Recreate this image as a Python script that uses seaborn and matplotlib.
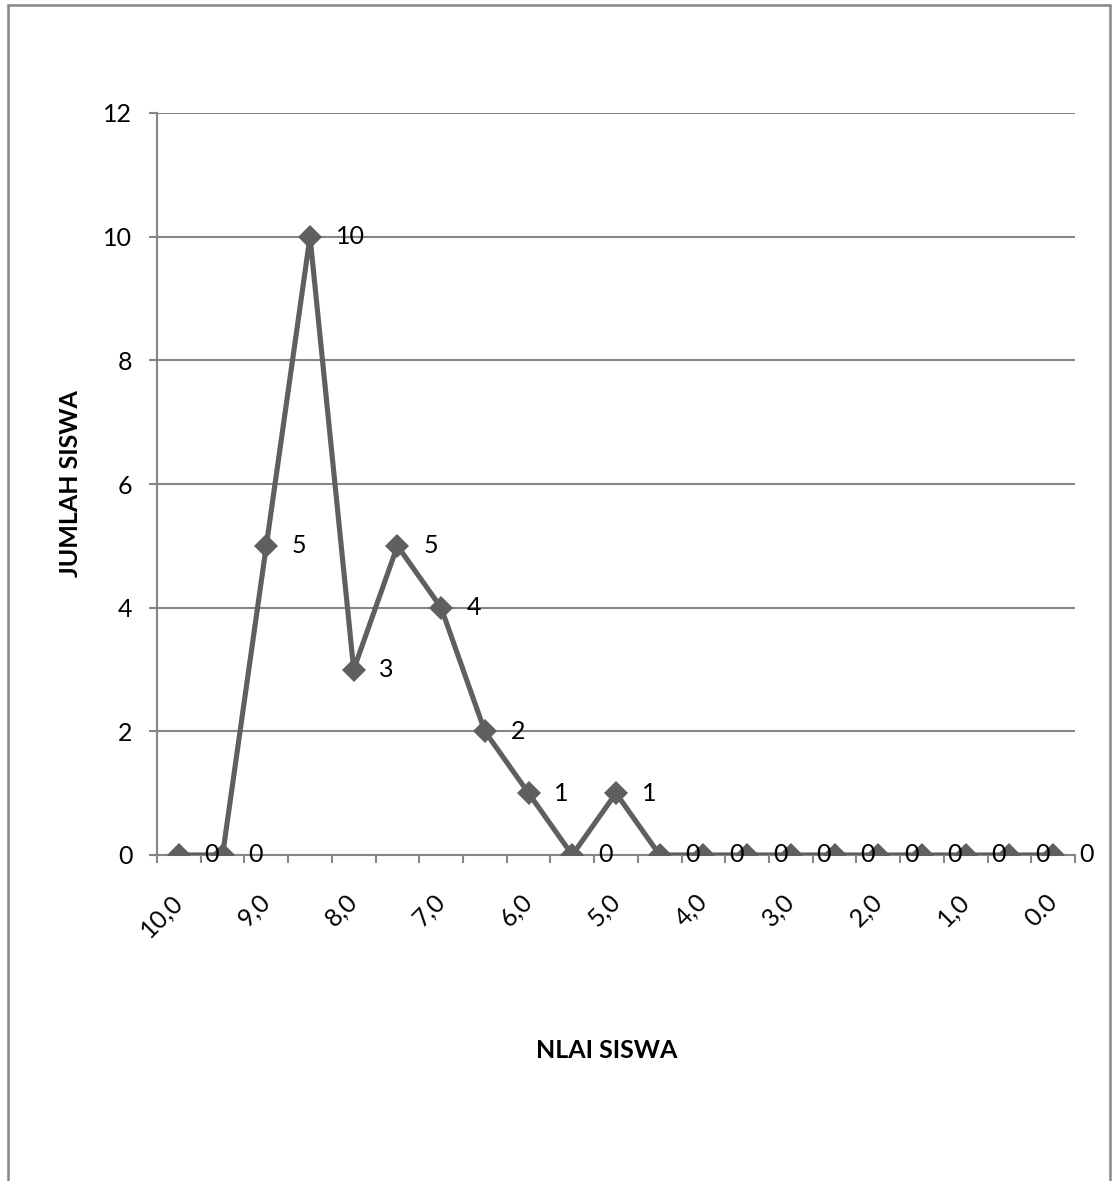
import matplotlib
matplotlib.use("Agg")
import matplotlib.pyplot as plt
import seaborn as sns
import pandas as pd
from matplotlib.lines import Line2D

# ---- data ----
categories = ["10,0", "9,5", "9,0", "8,5", "8,0", "7,5", "7,0", "6,5", "6,0", "5,5",
              "5,0", "4,5", "4,0", "3,5", "3,0", "2,5", "2,0", "1,5", "1,0", "0,5", "0.0"]
tick_labels = ["10,0", "", "9,0", "", "8,0", "", "7,0", "", "6,0", "", "5,0", "",
               "4,0", "", "3,0", "", "2,0", "", "1,0", "", "0.0"]
counts = [0, 0, 5, 10, 3, 5, 4, 2, 1, 0, 1, 0, 0, 0, 0, 0, 0, 0, 0, 0, 0]
y_ticks = [0, 2, 4, 6, 8, 10, 12]
x_title = "NLAI SISWA"
y_title = "JUMLAH SISWA"

sns.set_theme(style="white")
plt.rcParams['font.family'] = ['Lato', 'DejaVu Sans']

AX_COLOR = "#868686"
LINE_COLOR = "#5f5f5f"
FS = 18

fig = plt.figure(figsize=(11.14, 11.81), dpi=100)
fig.patch.set_facecolor("white")
ax = fig.add_axes([157 / 1114, 1 - 855 / 1181, 918 / 1114, 742 / 1181])

df = pd.DataFrame({"pos": list(range(len(categories))), "count": counts})
sns.lineplot(data=df, x="pos", y="count", ax=ax, color=LINE_COLOR, linewidth=3.7,
             marker="D", markersize=12.5, markeredgewidth=0,
             markerfacecolor=LINE_COLOR, zorder=3)

for i, v in enumerate(counts):
    ax.annotate(str(v), (i, v), xytext=(18.5, 0), textcoords="offset points",
                ha="left", va="center", fontsize=FS, color="black", zorder=4)

ax.set_xlim(-0.5, len(categories) - 0.5)
ax.set_ylim(0, 12)
ax.set_yticks(y_ticks)
ax.set_yticklabels([str(t) for t in y_ticks])
ax.set_xticks(list(range(len(categories))))
ax.set_xticklabels(tick_labels, rotation=45, ha="right", va="center",
                   rotation_mode="anchor")
ax.set_xticks([i - 0.5 for i in range(len(categories) + 1)], minor=True)

ax.tick_params(axis="x", which="major", length=0, pad=31, labelsize=FS, labelcolor="black")
ax.tick_params(axis="x", which="minor", length=5.8, width=1.5, color=AX_COLOR, direction="out",
               bottom=True)
ax.tick_params(axis="y", which="major", length=5.8, width=1.5, color=AX_COLOR, direction="out",
               pad=12, labelsize=FS, labelcolor="black", left=True)

ax.yaxis.grid(True, color=AX_COLOR, linewidth=1.5)
ax.xaxis.grid(False)
ax.set_axisbelow(True)

for s in ["top", "right"]:
    ax.spines[s].set_visible(False)
for s in ["left", "bottom"]:
    ax.spines[s].set_visible(True)
    ax.spines[s].set_color(AX_COLOR)
    ax.spines[s].set_linewidth(1.5)

ax.set_xlabel(x_title, fontsize=FS, fontweight="bold", color="black", va="center")
ax.set_ylabel(y_title, fontsize=FS, fontweight="bold", color="black", va="center")
ax.xaxis.set_label_coords(0.49, (855 - 1051) / 742)
ax.yaxis.set_label_coords((70 - 157) / 918, 0.5)

# outer chart border (bottom edge cut off)
W, H = 1114, 1181
bx0, bx1, by0 = 8 / W, 1110 / W, 1 - 5 / H
for xs, ys in [([bx0, bx0], [0, by0]), ([bx0, bx1], [by0, by0]), ([bx1, bx1], [by0, 0])]:
    fig.add_artist(Line2D(xs, ys, transform=fig.transFigure, color=AX_COLOR, linewidth=1.8))

fig.savefig("out.png", dpi=100, facecolor="white")
